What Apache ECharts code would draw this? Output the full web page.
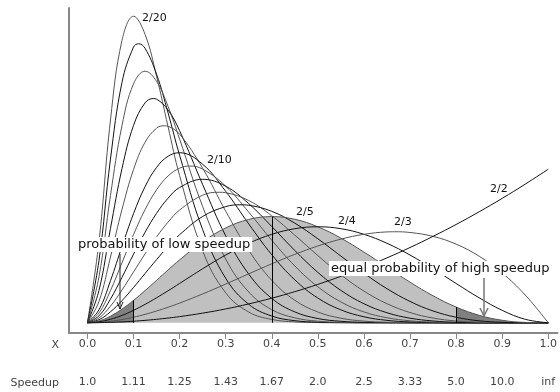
<!DOCTYPE html>
<html>
<head>
<meta charset="utf-8">
<script src="https://cdn.jsdelivr.net/npm/echarts@6.0.0/dist/echarts.min.js"></script>
<style>
html, body { margin: 0; padding: 0; background: #fff; }
#main { width: 560px; height: 392px; }
</style>
</head>
<body>
<div id="main"></div>
<script>
// sample positions along X
const xs = [0, 0.025, 0.05, 0.075, 0.1, 0.125, 0.15, 0.175, 0.2, 0.25, 0.3, 0.35, 0.4, 0.45, 0.5, 0.55, 0.6, 0.65, 0.7, 0.75, 0.8, 0.85, 0.9, 0.95, 1.0];

// density curves, one per "2/n"
const c20 = [0, 1.581, 3.962, 5.516, 5.989, 5.636, 4.816, 3.830, 2.875, 1.406, 0.585, 0.210, 0.065, 0.017, 0.004, 0, 0, 0, 0, 0, 0, 0, 0, 0, 0];
const c18 = [0, 1.212, 3.199, 4.697, 5.387, 5.363, 4.857, 4.100, 3.273, 1.821, 0.869, 0.361, 0.131, 0.041, 0.011, 0.003, 0, 0, 0, 0, 0, 0, 0, 0, 0];
const c16 = [0, 0.895, 2.487, 3.852, 4.667, 4.915, 4.717, 4.227, 3.589, 2.272, 1.245, 0.601, 0.256, 0.096, 0.031, 0.009, 0.002, 0, 0, 0, 0, 0, 0, 0, 0];
const c14 = [0, 0.630, 1.844, 3.013, 3.855, 4.296, 4.369, 4.156, 3.752, 2.702, 1.700, 0.951, 0.476, 0.212, 0.083, 0.029, 0.008, 0.002, 0, 0, 0, 0, 0, 0, 0];
const c12 = [0, 0.416, 1.284, 2.213, 2.992, 3.527, 3.801, 3.838, 3.685, 3.020, 2.181, 1.415, 0.830, 0.440, 0.210, 0.089, 0.032, 0.010, 0.003, 0, 0, 0, 0, 0, 0];
const c10 = [0, 0.253, 0.821, 1.492, 2.131, 2.658, 3.035, 3.253, 3.322, 3.097, 2.568, 1.932, 1.330, 0.839, 0.483, 0.252, 0.117, 0.047, 0.016, 0.004, 0, 0, 0, 0, 0];
const c9 = [0, 0.189, 0.629, 1.173, 1.722, 2.209, 2.597, 2.868, 3.020, 3.003, 2.668, 2.162, 1.613, 1.110, 0.703, 0.407, 0.212, 0.098, 0.039, 0.012, 0.003, 0, 0, 0, 0];
const c8 = [0, 0.135, 0.463, 0.888, 1.339, 1.767, 2.138, 2.433, 2.642, 2.803, 2.668, 2.328, 1.881, 1.413, 0.984, 0.633, 0.372, 0.196, 0.090, 0.035, 0.010, 0.002, 0, 0, 0];
const c7 = [0, 0.093, 0.325, 0.640, 0.992, 1.346, 1.677, 1.966, 2.202, 2.492, 2.541, 2.388, 2.090, 1.712, 1.313, 0.938, 0.619, 0.373, 0.200, 0.092, 0.034, 0.009, 0.001, 0, 0];
const c6 = [0, 0.059, 0.214, 0.432, 0.689, 0.962, 1.233, 1.490, 1.720, 2.076, 2.269, 2.296, 2.177, 1.946, 1.641, 1.303, 0.968, 0.666, 0.417, 0.231, 0.108, 0.038, 0.009, 0.001, 0];
const c5 = [0, 0.035, 0.129, 0.267, 0.437, 0.628, 0.829, 1.032, 1.229, 1.582, 1.852, 2.019, 2.074, 2.022, 1.875, 1.654, 1.382, 1.087, 0.794, 0.527, 0.307, 0.146, 0.049, 0.007, 0];
const c4 = [0, 0.018, 0.068, 0.144, 0.243, 0.359, 0.488, 0.625, 0.768, 1.055, 1.323, 1.553, 1.728, 1.838, 1.875, 1.838, 1.728, 1.553, 1.323, 1.055, 0.768, 0.488, 0.243, 0.068, 0];
const c3 = [0, 0.007, 0.029, 0.062, 0.108, 0.164, 0.230, 0.303, 0.384, 0.563, 0.756, 0.956, 1.152, 1.337, 1.500, 1.634, 1.728, 1.775, 1.764, 1.688, 1.536, 1.301, 0.972, 0.542, 0];
const c2 = [0, 0.002, 0.008, 0.017, 0.030, 0.047, 0.068, 0.092, 0.120, 0.188, 0.270, 0.368, 0.480, 0.608, 0.750, 0.908, 1.080, 1.268, 1.470, 1.688, 1.920, 2.168, 2.430, 2.708, 3.000];

const curves = [c20, c18, c16, c14, c12, c10, c9, c8, c7, c6, c5, c4, c3, c2];
const curveNames = ['2/20', '2/18', '2/16', '2/14', '2/12', '2/10', '2/9', '2/8', '2/7', '2/6', '2/5', '2/4', '2/3', '2/2'];

// top of each curve (mode sits at 2/n)
const peakX = [0.1, 0.1111, 0.125, 0.1429, 0.1667, 0.2, 0.2222, 0.25, 0.2857, 0.3333, 0.4, 0.5, 0.6667, 1.0];
const peakY = [5.989, 5.451, 4.915, 4.381, 3.849, 3.322, 3.062, 2.803, 2.550, 2.305, 2.074, 1.875, 1.778, 3.000];

// axis ticks
const tickValues = [0, 0.1, 0.2, 0.3, 0.4, 0.5, 0.6, 0.7, 0.8, 0.9, 1.0];
const speedupLabels = ['1.0', '1.11', '1.25', '1.43', '1.67', '2.0', '2.5', '3.33', '5.0', '10.0', 'inf'];

// split points of the shaded 2/5 curve
const lowCut = 0.1;
const highCut = 0.8;
const midMark = 0.4;

const font = '"DejaVu Sans", Verdana, sans-serif';

const pairs = (arr, from, to) => xs.map((x, i) => [x, arr[i]]).filter(p => p[0] >= from && p[0] <= to);
const at = (arr, x) => arr[xs.indexOf(x)];
const withPeak = (arr, k) => {
	const pts = pairs(arr, 0, 1);
	if (xs.indexOf(peakX[k]) < 0) pts.push([peakX[k], peakY[k]]);
	return pts.sort((a, b) => a[0] - b[0]);
};

const shade = (from, to, color) => ({
	type: 'line',
	data: pairs(c5, from, to),
	smooth: 0.4,
	showSymbol: false,
	silent: true,
	lineStyle: {width: 0},
	areaStyle: {color: color, opacity: 1},
	z: 1
});

const shadeMid = shade(lowCut, highCut, '#c0c0c0');
shadeMid.markLine = {
	silent: true,
	symbol: 'none',
	label: {show: false},
	lineStyle: {color: '#000', width: 1, type: 'solid'},
	data: [lowCut, midMark, highCut].map(x => [{coord: [x, 0]}, {coord: [x, at(c5, x)]}])
};

const series = [shade(0, lowCut, '#808080'), shadeMid, shade(highCut, 1, '#808080')];
curves.forEach((arr, k) => {
	series.push({
		name: curveNames[k],
		type: 'line',
		data: withPeak(arr, k),
		smooth: 0.4,
		showSymbol: false,
		silent: true,
		lineStyle: {width: 1, color: k % 2 ? '#111' : '#555'},
		z: 3
	});
});

const label = (text, x, y) => ({
	type: 'text', x: x, y: y, z: 10,
	style: {text: text, font: '11px ' + font, fill: '#111', verticalAlign: 'middle'}
});

const chart = echarts.init(document.getElementById('main'));
chart.setOption({
	animation: false,
	grid: {left: 69, right: 0, top: 8, bottom: 59},
	xAxis: [
		{
			type: 'value', min: -0.04, max: 1.02, position: 'bottom',
			axisLine: {onZero: false, lineStyle: {color: '#888', width: 2}},
			axisTick: {customValues: tickValues, length: 6, lineStyle: {color: '#888'}},
			axisLabel: {customValues: tickValues, margin: 6, color: '#444', fontSize: 11, fontFamily: font,
				formatter: v => v.toFixed(1)},
			splitLine: {show: false}
		},
		{
			type: 'value', min: -0.04, max: 1.02, position: 'bottom',
			axisLine: {show: false},
			axisTick: {show: false},
			axisLabel: {customValues: tickValues, margin: 44, color: '#444', fontSize: 11, fontFamily: font,
				formatter: v => speedupLabels[Math.round(v * 10)]},
			splitLine: {show: false}
		}
	],
	yAxis: {
		type: 'value', min: -0.2, max: 6.15,
		axisLine: {show: true, onZero: false, lineStyle: {color: '#888', width: 2}},
		axisTick: {show: false},
		axisLabel: {show: false},
		splitLine: {show: false}
	},
	series: series,
	graphic: [
		label('2/20', 142, 18),
		label('2/10', 207, 160),
		label('2/5', 296, 212),
		label('2/4', 338, 221),
		label('2/3', 394, 222),
		label('2/2', 490, 189),
		{type: 'text', x: 59, y: 345, style: {text: 'X', font: '11px ' + font, fill: '#444', align: 'right', verticalAlign: 'middle'}},
		{type: 'text', x: 59, y: 383, style: {text: 'Speedup', font: '11px ' + font, fill: '#444', align: 'right', verticalAlign: 'middle'}},
		{type: 'text', x: 76, y: 237, z: 20, style: {text: 'probability of low speedup', font: '13px ' + font, fill: '#111',
			backgroundColor: '#fff', padding: [1, 2, 1, 2]}},
		{type: 'text', x: 329, y: 261, z: 20, style: {text: 'equal probability of high speedup', font: '13px ' + font, fill: '#111',
			backgroundColor: '#fff', padding: [1, 2, 1, 2]}},
		{type: 'line', z: 20, shape: {x1: 120, y1: 254, x2: 120, y2: 309}, style: {stroke: '#222', lineWidth: 1}},
		{type: 'polyline', z: 20, shape: {points: [[117, 302], [120, 309], [123, 302]]}, style: {stroke: '#222', lineWidth: 1, fill: null}},
		{type: 'line', z: 20, shape: {x1: 484, y1: 278, x2: 484, y2: 316}, style: {stroke: '#777', lineWidth: 1.5}},
		{type: 'polyline', z: 20, shape: {points: [[480, 308], [484, 316], [488, 308]]}, style: {stroke: '#777', lineWidth: 1.5, fill: null}}
	]
});
</script>
</body>
</html>
